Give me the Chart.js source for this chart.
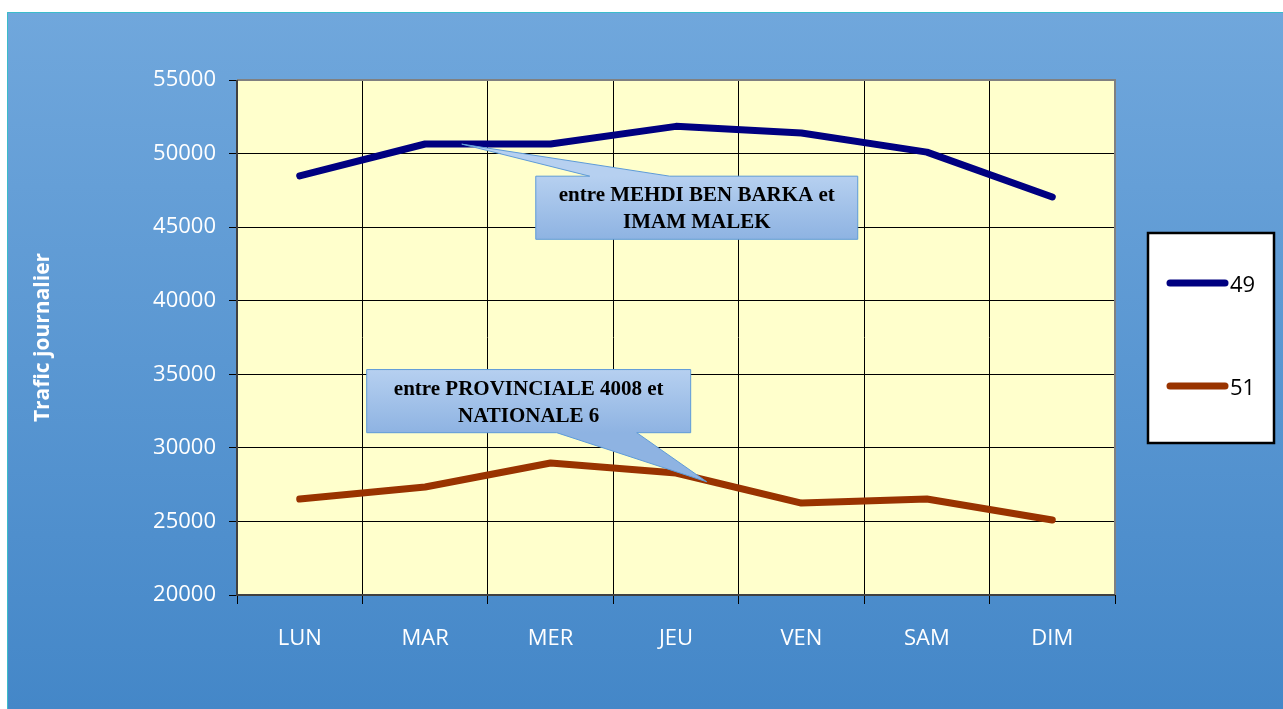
<!DOCTYPE html>
<html>
<head>
<meta charset="utf-8">
<script src="https://cdn.jsdelivr.net/npm/chart.js@4.4.0/dist/chart.umd.min.js"></script>
<style>
html, body { margin: 0; padding: 0; background: #fff; }
#wrap { width: 1283px; height: 709px; position: relative; }
</style>
</head>
<body>
<div id="wrap"><canvas id="traficChart"></canvas></div>
<script>
// Trafic journalier - deux sections, semaine LUN..DIM

const DAYS = ['LUN', 'MAR', 'MER', 'JEU', 'VEN', 'SAM', 'DIM'];
const SERIES_49 = [48480, 50650, 50650, 51850, 51400, 50100, 47050];
const SERIES_51 = [26520, 27340, 28970, 28290, 26250, 26520, 25100];
const SERIES_NAMES = ['49', '51'];
const SERIES_COLORS = ['#000080', '#993300'];
const Y_TICKS = [20000, 25000, 30000, 35000, 40000, 45000, 50000, 55000];
const Y_TITLE = 'Trafic journalier';

// callouts: box [xLeft, xRight, yTop, yBottom] in scale units, tip, wedge base on x
const CALLOUTS = [
    { lines: ['entre MEHDI BEN BARKA et', 'IMAM MALEK'], box: [1.882, 4.449, 48463, 44173], tip: [1.292, 50642], base: [2.312, 2.950], side: 'top' },
    { lines: ['entre PROVINCIALE 4008 et', 'NATIONALE 6'], box: [0.534, 3.117, 35321, 31030], tip: [3.245, 27695], base: [2.049, 2.687], side: 'bottom' }
];

const TICK_FONT = { family: 'Open Sans', size: 22 };

// background, plot area fill
const backdrop = {
    id: 'backdrop',
    beforeDraw(chart) {
        const { ctx, chartArea: a } = chart;
        ctx.save();
        ctx.fillStyle = '#fff';
        ctx.fillRect(0, 0, chart.width, chart.height);
        const g = ctx.createLinearGradient(0, 12, 0, chart.height);
        g.addColorStop(0, '#70a7dc');
        g.addColorStop(1, '#4487c8');
        ctx.fillStyle = g;
        ctx.fillRect(7, 12, chart.width - 7, chart.height - 12);
        ctx.strokeStyle = '#3bbccb';
        ctx.lineWidth = 1;
        ctx.beginPath();
        ctx.moveTo(7.5, chart.height);
        ctx.lineTo(7.5, 12.5);
        ctx.lineTo(chart.width, 12.5);
        ctx.stroke();
        ctx.fillStyle = '#ffffcc';
        ctx.fillRect(a.left, a.top, a.right - a.left, a.bottom - a.top);
        ctx.restore();
    },
    beforeDatasetsDraw(chart) {
        const { ctx, chartArea: a } = chart;
        ctx.save();
        ctx.lineWidth = 2;
        ctx.strokeStyle = '#808080';
        ctx.beginPath();
        ctx.moveTo(a.left, a.top);
        ctx.lineTo(a.right, a.top);
        ctx.lineTo(a.right, a.bottom);
        ctx.stroke();
        ctx.strokeStyle = '#404040';
        ctx.beginPath();
        ctx.moveTo(a.left, a.top);
        ctx.lineTo(a.left, a.bottom);
        ctx.lineTo(a.right, a.bottom);
        ctx.stroke();
        ctx.restore();
    }
};

// callout boxes with pointer
const callouts = {
    id: 'callouts',
    afterDatasetsDraw(chart) {
        const { ctx, scales: { x, y } } = chart;
        ctx.save();
        CALLOUTS.forEach(c => {
            const l = x.getPixelForValue(c.box[0]), r = x.getPixelForValue(c.box[1]);
            const t = y.getPixelForValue(c.box[2]), b = y.getPixelForValue(c.box[3]);
            const tx = x.getPixelForValue(c.tip[0]), ty = y.getPixelForValue(c.tip[1]);
            const b1 = x.getPixelForValue(c.base[0]), b2 = x.getPixelForValue(c.base[1]);
            ctx.beginPath();
            if (c.side === 'top') {
                ctx.moveTo(l, t); ctx.lineTo(b1, t); ctx.lineTo(tx, ty); ctx.lineTo(b2, t);
                ctx.lineTo(r, t); ctx.lineTo(r, b); ctx.lineTo(l, b);
            } else {
                ctx.moveTo(l, t); ctx.lineTo(r, t); ctx.lineTo(r, b); ctx.lineTo(b2, b);
                ctx.lineTo(tx, ty); ctx.lineTo(b1, b); ctx.lineTo(l, b);
            }
            ctx.closePath();
            const g = ctx.createLinearGradient(0, t, 0, b);
            g.addColorStop(0, '#b6d0f0');
            g.addColorStop(1, '#8eb3e2');
            ctx.fillStyle = g;
            ctx.fill();
            ctx.strokeStyle = '#5e9bd8';
            ctx.lineWidth = 1;
            ctx.stroke();

            ctx.fillStyle = '#000';
            ctx.font = 'bold 21px "Liberation Serif"';
            ctx.textAlign = 'center';
            ctx.textBaseline = 'middle';
            const cx = (l + r) / 2, cy = (t + b) / 2;
            ctx.fillText(c.lines[0], cx, cy - 12);
            ctx.fillText(c.lines[1], cx, cy + 15);
        });
        ctx.restore();
    }
};

// boxed legend on the right
const boxLegend = {
    id: 'boxLegend',
    afterDraw(chart) {
        const { ctx } = chart;
        ctx.save();
        ctx.fillStyle = '#fff';
        ctx.fillRect(1148, 233, 126, 210);
        ctx.strokeStyle = '#000';
        ctx.lineWidth = 2.5;
        ctx.strokeRect(1148, 233, 126, 210);
        const rows = [283, 386];
        chart.data.datasets.forEach((ds, i) => {
            ctx.strokeStyle = ds.borderColor;
            ctx.lineWidth = 7;
            ctx.lineCap = 'round';
            ctx.beginPath();
            ctx.moveTo(1170, rows[i]);
            ctx.lineTo(1225, rows[i]);
            ctx.stroke();
            ctx.fillStyle = '#000';
            ctx.font = '22px "Open Sans"';
            ctx.textAlign = 'left';
            ctx.textBaseline = 'middle';
            ctx.fillText(ds.label, 1230, rows[i] + 3);
        });
        ctx.restore();
    }
};

new Chart(document.getElementById('traficChart'), {
    type: 'line',
    data: {
        labels: DAYS,
        datasets: [SERIES_49, SERIES_51].map((d, i) => ({
            label: SERIES_NAMES[i],
            data: d,
            borderColor: SERIES_COLORS[i],
            backgroundColor: SERIES_COLORS[i],
            borderWidth: 7,
            borderCapStyle: 'round',
            borderJoinStyle: 'round',
            pointRadius: 0,
            tension: 0,
            fill: false
        }))
    },
    options: {
        responsive: true,
        maintainAspectRatio: false,
        animation: false,
        layout: { padding: { left: 0, top: 80, right: 168, bottom: 0 } },
        plugins: {
            legend: { display: false },
            tooltip: { enabled: false }
        },
        scales: {
            x: {
                offset: true,
                grid: { offset: true, color: '#000', lineWidth: 1, tickLength: 9, tickColor: '#000' },
                border: { display: false },
                ticks: { color: '#fff', font: TICK_FONT, padding: 22, maxRotation: 0 },
                afterFit: s => { s.height = 114; }
            },
            y: {
                min: 20000,
                max: 55000,
                afterBuildTicks: s => { s.ticks = Y_TICKS.map(v => ({ value: v })); },
                grid: { color: '#000', lineWidth: 1, tickLength: 8, tickColor: '#000' },
                border: { display: false },
                ticks: { color: '#fff', font: TICK_FONT, padding: 13, callback: v => String(v) },
                title: {
                    display: true,
                    text: Y_TITLE,
                    color: '#fff',
                    font: { family: 'Open Sans', size: 21, weight: 'bold' },
                    padding: { top: 30, bottom: 0 }
                },
                afterFit: s => { s.width = 237; }
            }
        }
    },
    plugins: [backdrop, callouts, boxLegend]
});
</script>
</body>
</html>
